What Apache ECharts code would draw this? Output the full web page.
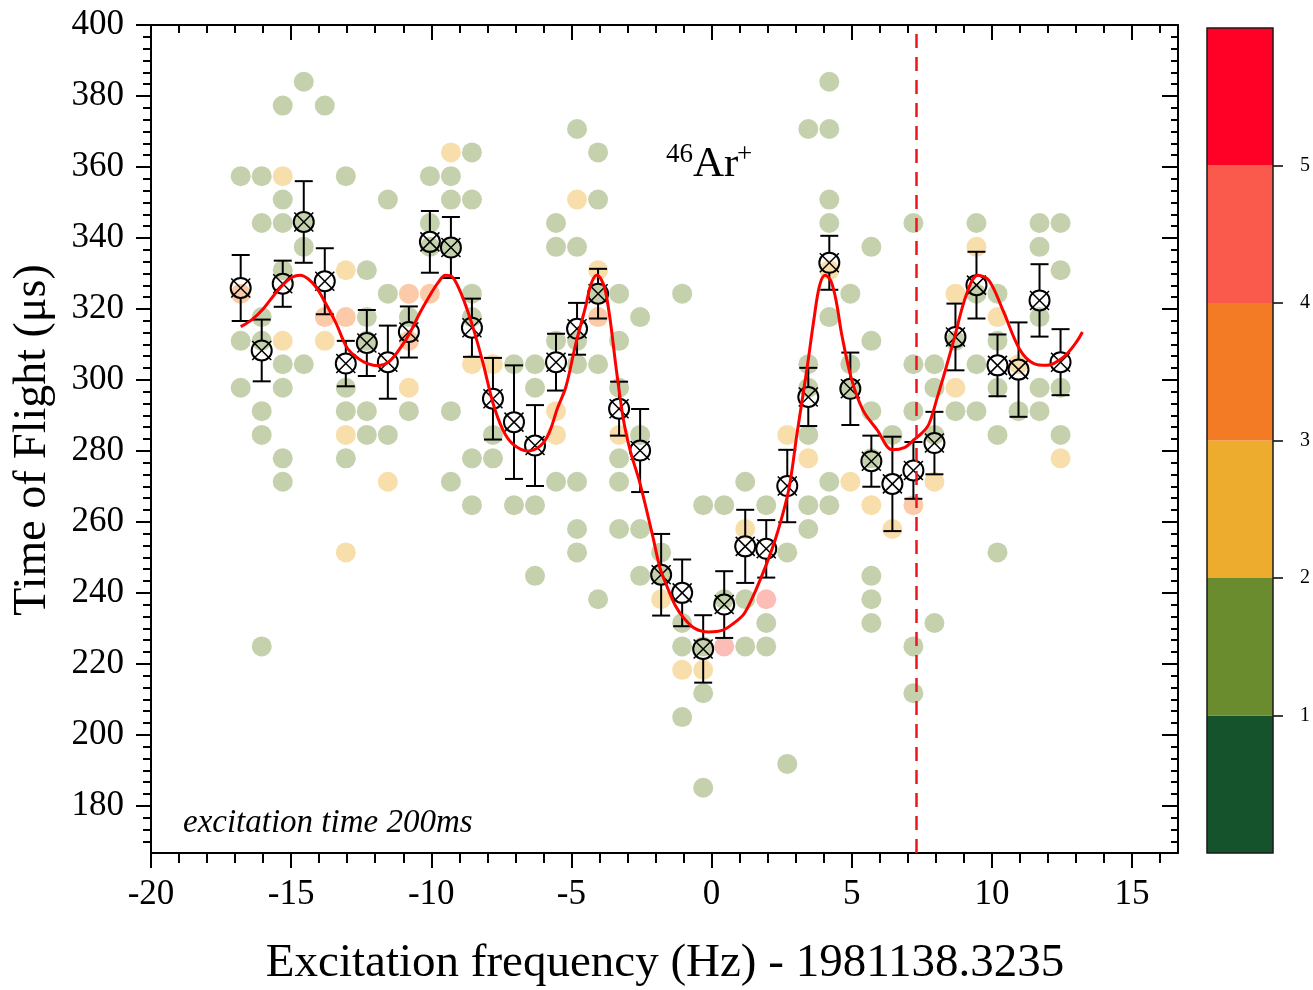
<!DOCTYPE html>
<html>
<head>
<meta charset="utf-8">
<script src="https://cdn.jsdelivr.net/npm/echarts@6/dist/echarts.min.js"></script>
<style>
  html, body { margin: 0; padding: 0; background: #fff; }
  #chart { width: 1313px; height: 990px; }
</style>
</head>
<body>
<div id="chart"></div>
<script>
// Excitation frequency offsets (Hz) of the scan steps
const freq = [-16.80, -16.05, -15.30, -14.55, -13.80, -13.05, -12.30, -11.55, -10.80, -10.05,
              -9.30, -8.55, -7.80, -7.05, -6.30, -5.55, -4.80, -4.05, -3.30, -2.55,
              -1.80, -1.05, -0.30, 0.45, 1.20, 1.95, 2.70, 3.45, 4.20, 4.95,
              5.70, 6.45, 7.20, 7.95, 8.70, 9.45, 10.20, 10.95, 11.70, 12.45];

// Mean time of flight per step (µs) and its uncertainty
const meanTof = [325.9, 308.3, 327.1, 344.5, 327.8, 304.6, 310.4, 305.0, 313.5, 338.9,
                 337.3, 314.7, 294.7, 288.1, 281.5, 305.0, 314.4, 324.3, 291.9, 280.1,
                 245.1, 240.0, 224.2, 236.7, 253.1, 252.4, 270.1, 295.2, 333.0, 297.5,
                 277.1, 270.7, 274.5, 282.2, 312.1, 326.7, 304.1, 302.9, 322.4, 305.0];
const meanErr = [9.3, 8.7, 6.5, 11.5, 9.3, 6.4, 9.3, 10.3, 7.2, 8.7,
                 8.6, 8.2, 11.5, 16.0, 11.4, 8.0, 7.3, 7.0, 7.6, 11.7,
                 11.5, 9.4, 9.5, 9.4, 10.3, 8.1, 10.2, 8.2, 7.6, 10.2,
                 7.2, 13.3, 8.0, 8.8, 9.4, 9.4, 8.7, 13.3, 10.2, 9.3];

// Individual detections: [frequency offset (Hz), time of flight (µs), ion count]
const shots = [
  [-16.80, 357.4, 1], [-16.80, 324.3, 3], [-16.80, 311.0, 1], [-16.80, 297.8, 1],
  [-16.05, 357.4, 1], [-16.05, 344.2, 1], [-16.05, 317.7, 1], [-16.05, 311.0, 1], [-16.05, 291.2, 1], [-16.05, 284.5, 1], [-16.05, 224.9, 1],
  [-15.30, 377.3, 1], [-15.30, 357.4, 2], [-15.30, 350.8, 1], [-15.30, 344.2, 1], [-15.30, 330.9, 1], [-15.30, 311.0, 2], [-15.30, 304.4, 1], [-15.30, 297.8, 1], [-15.30, 277.9, 1], [-15.30, 271.3, 1],
  [-14.55, 384.0, 1], [-14.55, 344.2, 1], [-14.55, 337.5, 1], [-14.55, 304.4, 1],
  [-13.80, 377.3, 1], [-13.80, 317.7, 3], [-13.80, 311.0, 2],
  [-13.05, 357.4, 1], [-13.05, 330.9, 2], [-13.05, 317.7, 3], [-13.05, 297.8, 1], [-13.05, 291.2, 1], [-13.05, 284.5, 2], [-13.05, 277.9, 1], [-13.05, 251.4, 2],
  [-12.30, 330.9, 1], [-12.30, 317.7, 1], [-12.30, 311.0, 1], [-12.30, 291.2, 1], [-12.30, 284.5, 1],
  [-11.55, 350.8, 1], [-11.55, 324.3, 1], [-11.55, 284.5, 1], [-11.55, 271.3, 2],
  [-10.80, 324.3, 3], [-10.80, 317.7, 1], [-10.80, 311.0, 3], [-10.80, 297.8, 2], [-10.80, 291.2, 1],
  [-10.05, 357.4, 1], [-10.05, 344.2, 1], [-10.05, 337.5, 1], [-10.05, 324.3, 3],
  [-9.30, 364.1, 2], [-9.30, 357.4, 1], [-9.30, 350.8, 1], [-9.30, 337.5, 1], [-9.30, 291.2, 1], [-9.30, 271.3, 1],
  [-8.55, 364.1, 1], [-8.55, 350.8, 1], [-8.55, 324.3, 1], [-8.55, 317.7, 1], [-8.55, 304.4, 2], [-8.55, 277.9, 1], [-8.55, 264.7, 1],
  [-7.80, 304.4, 2], [-7.80, 284.5, 1], [-7.80, 277.9, 1],
  [-7.05, 304.4, 1], [-7.05, 264.7, 1],
  [-6.30, 304.4, 1], [-6.30, 297.8, 1], [-6.30, 264.7, 1], [-6.30, 244.8, 1],
  [-5.55, 344.2, 1], [-5.55, 337.5, 1], [-5.55, 311.0, 1], [-5.55, 291.2, 2], [-5.55, 284.5, 2], [-5.55, 271.3, 1],
  [-4.80, 370.7, 1], [-4.80, 350.8, 2], [-4.80, 337.5, 1], [-4.80, 311.0, 1], [-4.80, 304.4, 1], [-4.80, 271.3, 1], [-4.80, 258.0, 1], [-4.80, 251.4, 1],
  [-4.05, 364.1, 1], [-4.05, 350.8, 1], [-4.05, 330.9, 2], [-4.05, 324.3, 1], [-4.05, 317.7, 3], [-4.05, 304.4, 1], [-4.05, 238.2, 1],
  [-3.30, 324.3, 1], [-3.30, 311.0, 1], [-3.30, 297.8, 1], [-3.30, 284.5, 2], [-3.30, 277.9, 1], [-3.30, 271.3, 1], [-3.30, 258.0, 1],
  [-2.55, 317.7, 1], [-2.55, 284.5, 1], [-2.55, 258.0, 1], [-2.55, 244.8, 1],
  [-1.80, 251.4, 1], [-1.80, 244.8, 1], [-1.80, 238.2, 2],
  [-1.05, 324.3, 1], [-1.05, 231.5, 1], [-1.05, 224.9, 1], [-1.05, 218.3, 2], [-1.05, 205.0, 1],
  [-0.30, 264.7, 1], [-0.30, 224.9, 1], [-0.30, 218.3, 2], [-0.30, 211.7, 1], [-0.30, 185.1, 1],
  [0.45, 264.7, 1], [0.45, 238.2, 1], [0.45, 224.9, 4],
  [1.20, 271.3, 1], [1.20, 258.0, 2], [1.20, 238.2, 1], [1.20, 224.9, 1],
  [1.95, 264.7, 1], [1.95, 238.2, 4], [1.95, 231.5, 1], [1.95, 224.9, 1],
  [2.70, 284.5, 2], [2.70, 251.4, 1], [2.70, 191.8, 1],
  [3.45, 370.7, 1], [3.45, 304.4, 1], [3.45, 297.8, 1], [3.45, 284.5, 1], [3.45, 277.9, 2], [3.45, 264.7, 1], [3.45, 258.0, 1],
  [4.20, 384.0, 1], [4.20, 370.7, 1], [4.20, 350.8, 1], [4.20, 344.2, 1], [4.20, 330.9, 2], [4.20, 317.7, 1], [4.20, 271.3, 1], [4.20, 264.7, 1],
  [4.95, 324.3, 1], [4.95, 304.4, 1], [4.95, 297.8, 1], [4.95, 271.3, 2],
  [5.70, 337.5, 1], [5.70, 311.0, 1], [5.70, 291.2, 1], [5.70, 277.9, 1], [5.70, 264.7, 2], [5.70, 244.8, 1], [5.70, 238.2, 1], [5.70, 231.5, 1],
  [6.45, 284.5, 1], [6.45, 258.0, 2],
  [7.20, 344.2, 1], [7.20, 304.4, 1], [7.20, 291.2, 1], [7.20, 264.7, 3], [7.20, 224.9, 1], [7.20, 211.7, 1],
  [7.95, 304.4, 1], [7.95, 297.8, 1], [7.95, 284.5, 1], [7.95, 271.3, 2], [7.95, 231.5, 1],
  [8.70, 324.3, 2], [8.70, 311.0, 1], [8.70, 297.8, 2], [8.70, 291.2, 1],
  [9.45, 344.2, 1], [9.45, 337.5, 2], [9.45, 324.3, 1], [9.45, 304.4, 1], [9.45, 291.2, 1],
  [10.20, 324.3, 1], [10.20, 317.7, 2], [10.20, 311.0, 1], [10.20, 297.8, 1], [10.20, 284.5, 1], [10.20, 251.4, 1],
  [10.95, 304.4, 2], [10.95, 291.2, 1],
  [11.70, 344.2, 1], [11.70, 337.5, 1], [11.70, 317.7, 1], [11.70, 297.8, 1], [11.70, 291.2, 1],
  [12.45, 344.2, 1], [12.45, 330.9, 1], [12.45, 297.8, 1], [12.45, 284.5, 1], [12.45, 277.9, 2]
];

// Fitted resonance curve
const fitFreq = [-16.8, -16.4, -16.0, -15.6, -15.27, -14.95, -14.68, -14.4, -14.1, -13.8,
                 -13.4, -13.0, -12.6, -12.27, -11.9, -11.53, -11.15, -10.78, -10.4, -10.0,
                 -9.75, -9.5, -9.25, -9.0, -8.75, -8.5, -8.15, -7.8, -7.45, -7.1,
                 -6.55, -6.1, -5.8, -5.5, -5.2, -4.85, -4.5, -4.3, -4.1, -3.95,
                 -3.8, -3.62, -3.4, -3.15, -2.9, -2.56, -2.1, -1.84, -1.6, -1.3,
                 -1.0, -0.6, -0.1, 0.4, 0.8, 1.15, 1.45, 1.75, 2.05, 2.35,
                 2.75, 3.05, 3.4, 3.65, 3.85, 4.05, 4.25, 4.45, 4.65, 5.0,
                 5.4, 5.9, 6.45, 6.9, 7.2, 7.5, 7.75, 8.05, 8.35, 8.65,
                 9.1, 9.5, 9.9, 10.4, 11.0, 11.5, 11.96, 12.55, 13.0, 13.23];
const fitTof = [315, 317, 320, 324, 327, 329, 329.5, 328.5, 326, 322,
                316, 309, 306, 304.6, 304, 305, 308.5, 313, 319, 324.5,
                327.5, 329.5, 329, 325.5, 320.5, 314.5, 304.6, 293.5, 286, 282,
                280, 281.5, 285, 292, 298, 310, 320.5, 327, 329.5, 328.5,
                325.5, 317, 303, 289, 280, 271, 256, 247, 242, 236.5,
                233, 230, 229, 229.5, 231.5, 234, 238.5, 244, 250, 257,
                269, 285, 303, 317, 326.5, 329.5, 328, 322, 312.5, 300,
                291.5, 286, 280.3, 281, 283, 285, 287.5, 295, 303, 311.5,
                324.3, 329.5, 328, 319.5, 308.5, 304.6, 304.1, 306.4, 310.5, 313.5];

// Resonance position marker (Hz)
const resonanceOffset = 7.29;

// Count colour scale
const countBands = [0, 1, 2, 3, 4, 5, 6];
const bandColors = ['#15532c', '#6b8b2f', '#eeac2e', '#f47b25', '#fa5a4b', '#ff0026'];
const colorbarTicks = [1, 2, 3, 4, 5];

// Axis ticks
const xMajorTicks = [-20, -15, -10, -5, 0, 5, 10, 15];
const yMajorTicks = [180, 200, 220, 240, 260, 280, 300, 320, 340, 360, 380, 400];

const X_MIN = -20, X_MAX = 16.64, Y_MIN = 166.7, Y_MAX = 400;
const FONT = '"Liberation Serif", "Times New Roman", serif';

// minor ticks: every 1 Hz, and six per 20 µs
const xMinorTicks = [];
for (let v = Math.ceil(X_MIN); v <= X_MAX; v++) {
  if (v % 5 !== 0) xMinorTicks.push(v);
}
const yMinorTicks = [];
for (let m = 160; m < Y_MAX; m += 20) {
  for (let j = 1; j < 6; j++) {
    const v = m + 20 * j / 6;
    if (v >= Y_MIN && v <= Y_MAX) yMinorTicks.push(v);
  }
}

const black = '#000';
function tickAxis(dim, position, ticks, length, inside, withLine, withLabels) {
  const ax = {
    gridIndex: 0,
    type: 'value',
    position: position,
    min: dim === 'x' ? X_MIN : Y_MIN,
    max: dim === 'x' ? X_MAX : Y_MAX,
    axisLine: { show: withLine, onZero: false, lineStyle: { color: black, width: 2 } },
    axisTick: { show: true, inside: inside, length: length, customValues: ticks,
                lineStyle: { color: black, width: 2 } },
    axisLabel: { show: false },
    splitLine: { show: false },
    minorTick: { show: false }
  };
  if (withLabels) {
    ax.axisLabel = {
      show: true, customValues: ticks, fontFamily: FONT, fontSize: 35, color: black,
      margin: dim === 'x' ? 24 : 27
    };
  }
  return ax;
}

function renderMean(params, api) {
  const f = api.value(0), t = api.value(1), e = api.value(2);
  const c = api.coord([f, t]);
  const yTop = api.coord([f, t + e])[1];
  const yBot = api.coord([f, t - e])[1];
  const r = 10, capHalf = 9, arm = 9.5;
  const bar = { stroke: black, lineWidth: 2 };
  const kids = [];
  if (yTop < c[1] - r) kids.push({ type: 'line', shape: { x1: c[0], y1: yTop, x2: c[0], y2: c[1] - r }, style: bar });
  if (yBot > c[1] + r) kids.push({ type: 'line', shape: { x1: c[0], y1: c[1] + r, x2: c[0], y2: yBot }, style: bar });
  kids.push({ type: 'line', shape: { x1: c[0] - capHalf, y1: yTop, x2: c[0] + capHalf, y2: yTop }, style: bar });
  kids.push({ type: 'line', shape: { x1: c[0] - capHalf, y1: yBot, x2: c[0] + capHalf, y2: yBot }, style: bar });
  kids.push({ type: 'circle', shape: { cx: c[0], cy: c[1], r: r }, style: { fill: 'none', stroke: black, lineWidth: 2 } });
  kids.push({ type: 'line', shape: { x1: c[0] - arm, y1: c[1] - arm, x2: c[0] + arm, y2: c[1] + arm }, style: { stroke: black, lineWidth: 1.5 } });
  kids.push({ type: 'line', shape: { x1: c[0] - arm, y1: c[1] + arm, x2: c[0] + arm, y2: c[1] - arm }, style: { stroke: black, lineWidth: 1.5 } });
  return { type: 'group', children: kids };
}

const colorbarSeries = bandColors.map((col, i) => ({
  type: 'bar',
  xAxisIndex: 4,
  yAxisIndex: 4,
  stack: 'countScale',
  barWidth: '100%',
  silent: true,
  data: [countBands[i + 1] - countBands[i]],
  itemStyle: { color: col }
}));

// colour-scale labels, placed through the scale's own y axis
function renderScaleLabel(params, api) {
  const p = api.coord([0, api.value(0)]);
  return {
    type: 'text',
    x: 1300, y: p[1],
    style: { text: String(api.value(0)), font: '20px ' + FONT, fill: black, textAlign: 'left', textVerticalAlign: 'middle' }
  };
}

const chart = echarts.init(document.getElementById('chart'), null, { renderer: 'canvas' });
chart.setOption({
  animation: false,
  backgroundColor: '#fff',
  grid: [
    { left: 151, top: 25, width: 1027, height: 828, show: false, containLabel: false, outerBoundsMode: 'none' },
    { left: 1207, top: 28, width: 66, height: 825, show: false, containLabel: false, outerBoundsMode: 'none' }
  ],
  xAxis: [
    tickAxis('x', 'bottom', xMajorTicks, 15, false, true, true),
    tickAxis('x', 'bottom', xMinorTicks, 10, false, false, false),
    tickAxis('x', 'top', xMajorTicks, 15, true, true, false),
    tickAxis('x', 'top', xMinorTicks, 8, true, false, false),
    { gridIndex: 1, type: 'category', data: ['count'], show: false }
  ],
  yAxis: [
    tickAxis('y', 'left', yMajorTicks, 15, false, true, true),
    tickAxis('y', 'left', yMinorTicks, 8, false, false, false),
    tickAxis('y', 'right', yMajorTicks, 16, true, true, false),
    tickAxis('y', 'right', yMinorTicks, 7, true, false, false),
    {
      gridIndex: 1, type: 'value', min: countBands[0], max: countBands[countBands.length - 1], position: 'right',
      axisLine: { show: false },
      axisTick: { show: true, inside: false, length: 10, customValues: colorbarTicks, lineStyle: { color: black, width: 1.5 } },
      axisLabel: { show: false },
      splitLine: { show: false }
    }
  ],
  visualMap: {
    type: 'piecewise',
    show: false,
    seriesIndex: 0,
    dimension: 2,
    pieces: bandColors.map((col, i) => ({ gte: countBands[i], lt: countBands[i + 1], color: col }))
  },
  series: [
    {
      type: 'scatter',
      xAxisIndex: 0, yAxisIndex: 0,
      symbol: 'circle',
      symbolSize: 20,
      itemStyle: { opacity: 0.4 },
      silent: true,
      z: 2,
      data: shots
    },
    {
      type: 'custom',
      xAxisIndex: 0, yAxisIndex: 0,
      renderItem: renderMean,
      encode: { x: 0, y: 1 },
      silent: true,
      z: 3,
      data: meanTof.map((t, i) => [freq[i], t, meanErr[i]])
    },
    {
      type: 'line',
      xAxisIndex: 0, yAxisIndex: 0,
      smooth: 0.35,
      showSymbol: false,
      silent: true,
      z: 4,
      lineStyle: { color: '#ff0000', width: 3 },
      data: fitFreq.map((f, i) => [f, fitTof[i]]),
      markLine: {
        silent: true,
        symbol: ['none', 'none'],
        label: { show: false },
        lineStyle: { color: '#f0141e', width: 2.5, type: [14, 9] },
        data: [{ xAxis: resonanceOffset }]
      }
    },
    {
      type: 'custom',
      xAxisIndex: 4, yAxisIndex: 4,
      renderItem: renderScaleLabel,
      encode: { y: 0 },
      silent: true,
      clip: false,
      z: 5,
      data: colorbarTicks.map(v => [v])
    }
  ].concat(colorbarSeries),
  graphic: [
    // outline of the colour scale
    { type: 'rect', z: 100, silent: true,
      shape: { x: 1207, y: 28, width: 66, height: 825 },
      style: { fill: 'none', stroke: '#1a1a1a', lineWidth: 1.5 } },
    { type: 'text', x: 33, y: 440, rotation: Math.PI / 2,
      style: { text: 'Time of Flight (μs)', font: '46px ' + FONT, fill: black, textAlign: 'center', textVerticalAlign: 'middle' } },
    { type: 'text', x: 665, y: 964,
      style: { text: 'Excitation frequency (Hz) - 1981138.3235', font: '47px ' + FONT, fill: black, textAlign: 'center', textVerticalAlign: 'middle' } },
    { type: 'text', x: 693, y: 165,
      style: { text: 'Ar', font: '43px ' + FONT, fill: black, textAlign: 'left', textVerticalAlign: 'middle' } },
    { type: 'text', x: 693, y: 155,
      style: { text: '46', font: '27px ' + FONT, fill: black, textAlign: 'right', textVerticalAlign: 'middle' } },
    { type: 'text', x: 737, y: 155,
      style: { text: '+', font: '27px ' + FONT, fill: black, textAlign: 'left', textVerticalAlign: 'middle' } },
    { type: 'text', x: 183, y: 823,
      style: { text: 'excitation time 200ms', font: 'italic 33px ' + FONT, fill: black, textAlign: 'left', textVerticalAlign: 'middle' } }
  ]
});
</script>
</body>
</html>
